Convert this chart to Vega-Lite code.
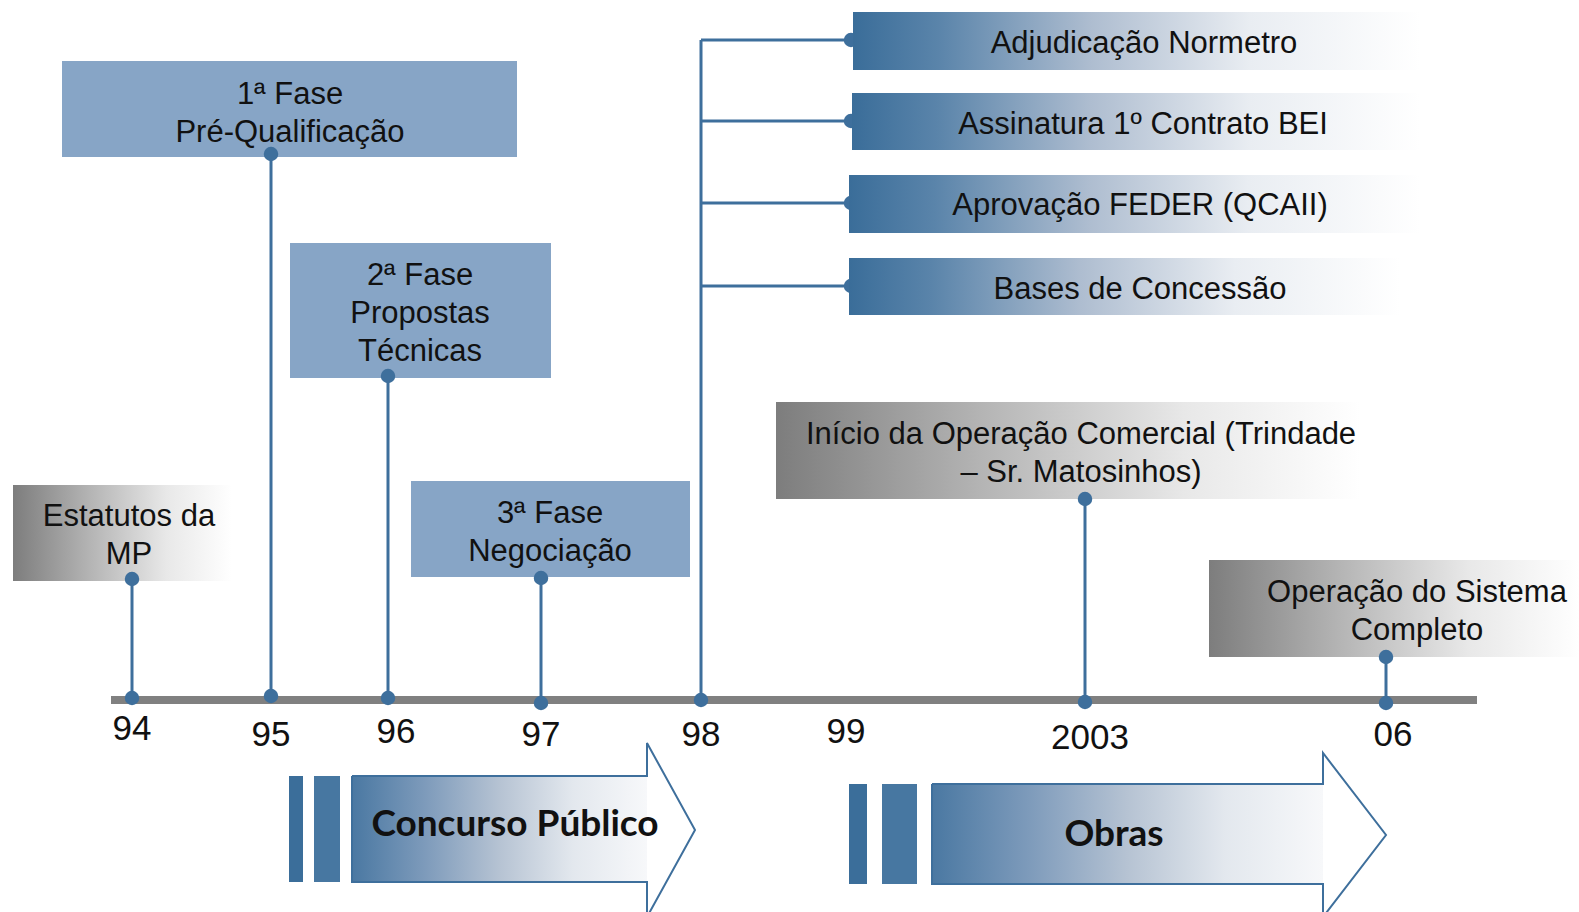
{
  "$schema": "https://vega.github.io/schema/vega-lite/v6.json",
  "width": 1579,
  "height": 912,
  "padding": 0,
  "autosize": {"type": "fit", "contains": "padding"},
  "background": "white",
  "config": {"view": {"stroke": null}},
  "datasets": {
    "boxes": [
      {"label": "Estatutos da MP", "kind": "milestone", "x1": 13, "x2": 232, "y1": 485, "y2": 581},
      {"label": "1ª Fase", "kind": "phase", "x1": 62, "x2": 517, "y1": 61, "y2": 157},
      {"label": "2ª Fase", "kind": "phase", "x1": 290, "x2": 551, "y1": 243, "y2": 378},
      {"label": "3ª Fase", "kind": "phase", "x1": 411, "x2": 690, "y1": 481, "y2": 577},
      {"label": "Adjudicação Normetro", "kind": "contract", "x1": 853, "x2": 1420, "y1": 12, "y2": 70},
      {"label": "Assinatura 1º Contrato BEI", "kind": "contract", "x1": 852, "x2": 1420, "y1": 93, "y2": 150},
      {"label": "Aprovação FEDER (QCAII)", "kind": "contract", "x1": 849, "x2": 1420, "y1": 175, "y2": 233},
      {"label": "Bases de Concessão", "kind": "contract", "x1": 849, "x2": 1400, "y1": 258, "y2": 315},
      {"label": "Início da Operação Comercial", "kind": "milestone", "x1": 776, "x2": 1360, "y1": 402, "y2": 499},
      {"label": "Operação do Sistema Completo", "kind": "milestone", "x1": 1209, "x2": 1579, "y1": 560, "y2": 657}
    ],
    "labels": [
      {"text": ["Estatutos da", "MP"], "x": 129, "y": 517},
      {"text": ["1ª Fase", "Pré-Qualificação"], "x": 290, "y": 95},
      {"text": ["2ª Fase", "Propostas", "Técnicas"], "x": 420, "y": 276},
      {"text": ["3ª Fase", "Negociação"], "x": 550, "y": 514},
      {"text": ["Adjudicação Normetro"], "x": 1144, "y": 44},
      {"text": ["Assinatura 1º Contrato BEI"], "x": 1143, "y": 125},
      {"text": ["Aprovação FEDER (QCAII)"], "x": 1140, "y": 206},
      {"text": ["Bases de Concessão"], "x": 1140, "y": 290},
      {"text": ["Início da Operação Comercial (Trindade", "– Sr. Matosinhos)"], "x": 1081, "y": 435},
      {"text": ["Operação do Sistema", "Completo"], "x": 1417, "y": 593}
    ],
    "stems": [
      {"event": "Estatutos da MP", "x": 132, "x2": 132, "y": 579, "y2": 698},
      {"event": "1ª Fase", "x": 271, "x2": 271, "y": 154, "y2": 696},
      {"event": "2ª Fase", "x": 388, "x2": 388, "y": 376, "y2": 698},
      {"event": "3ª Fase", "x": 541, "x2": 541, "y": 578, "y2": 703},
      {"event": "1998", "x": 701, "x2": 701, "y": 40, "y2": 700},
      {"event": "Adjudicação", "x": 701, "x2": 851, "y": 40, "y2": 40},
      {"event": "Assinatura", "x": 701, "x2": 851, "y": 121, "y2": 121},
      {"event": "Aprovação", "x": 701, "x2": 851, "y": 203, "y2": 203},
      {"event": "Bases", "x": 701, "x2": 851, "y": 286, "y2": 286},
      {"event": "Início", "x": 1085, "x2": 1085, "y": 499, "y2": 702},
      {"event": "Operação", "x": 1386, "x2": 1386, "y": 657, "y2": 703}
    ],
    "dots": [
      {"x": 132, "y": 579, "layer": "front"}, {"x": 132, "y": 698, "layer": "front"},
      {"x": 271, "y": 154, "layer": "front"}, {"x": 271, "y": 696, "layer": "front"},
      {"x": 388, "y": 376, "layer": "front"}, {"x": 388, "y": 698, "layer": "front"},
      {"x": 541, "y": 578, "layer": "front"}, {"x": 541, "y": 703, "layer": "front"},
      {"x": 701, "y": 700, "layer": "front"},
      {"x": 851, "y": 40, "layer": "back"}, {"x": 851, "y": 121, "layer": "back"},
      {"x": 851, "y": 203, "layer": "back"}, {"x": 851, "y": 286, "layer": "back"},
      {"x": 1085, "y": 499, "layer": "front"}, {"x": 1085, "y": 702, "layer": "front"},
      {"x": 1386, "y": 657, "layer": "front"}, {"x": 1386, "y": 703, "layer": "front"}
    ],
    "years": [
      {"year": "94", "x": 132, "y": 729},
      {"year": "95", "x": 271, "y": 735},
      {"year": "96", "x": 396, "y": 732},
      {"year": "97", "x": 541, "y": 735},
      {"year": "98", "x": 701, "y": 735},
      {"year": "99", "x": 846, "y": 732},
      {"year": "2003", "x": 1090, "y": 738},
      {"year": "06", "x": 1393, "y": 735}
    ],
    "bars": [
      {"arrow": "Concurso", "x1": 289, "x2": 303, "y1": 776, "y2": 882, "shade": "a"},
      {"arrow": "Concurso", "x1": 314, "x2": 340, "y1": 776, "y2": 882, "shade": "b"},
      {"arrow": "Obras", "x1": 849, "x2": 867, "y1": 784, "y2": 884, "shade": "a"},
      {"arrow": "Obras", "x1": 882, "x2": 917, "y1": 784, "y2": 884, "shade": "b"}
    ],
    "arrowBody": [
      {"arrow": "Concurso", "x1": 352, "x2": 647, "y1": 776, "y2": 882},
      {"arrow": "Obras", "x1": 932, "x2": 1323, "y1": 784, "y2": 884}
    ],
    "arrowHead": [
      {"arrow": "Concurso", "ord": 1, "x": 646, "yt": 743, "yb": 917},
      {"arrow": "Concurso", "ord": 2, "x": 695, "yt": 830, "yb": 830},
      {"arrow": "Obras", "ord": 1, "x": 1322, "yt": 753, "yb": 917},
      {"arrow": "Obras", "ord": 2, "x": 1386, "yt": 835, "yb": 835}
    ],
    "arrowLine": [
      {"arrow": "Concurso", "ord": 1, "x": 352, "y": 776},
      {"arrow": "Concurso", "ord": 2, "x": 647, "y": 776},
      {"arrow": "Concurso", "ord": 3, "x": 647, "y": 743},
      {"arrow": "Concurso", "ord": 4, "x": 695, "y": 830},
      {"arrow": "Concurso", "ord": 5, "x": 647, "y": 917},
      {"arrow": "Concurso", "ord": 6, "x": 647, "y": 882},
      {"arrow": "Concurso", "ord": 7, "x": 352, "y": 882},
      {"arrow": "Concurso", "ord": 8, "x": 352, "y": 776},
      {"arrow": "Obras", "ord": 1, "x": 932, "y": 784},
      {"arrow": "Obras", "ord": 2, "x": 1323, "y": 784},
      {"arrow": "Obras", "ord": 3, "x": 1323, "y": 753},
      {"arrow": "Obras", "ord": 4, "x": 1386, "y": 835},
      {"arrow": "Obras", "ord": 5, "x": 1323, "y": 917},
      {"arrow": "Obras", "ord": 6, "x": 1323, "y": 884},
      {"arrow": "Obras", "ord": 7, "x": 932, "y": 884},
      {"arrow": "Obras", "ord": 8, "x": 932, "y": 784}
    ],
    "arrowText": [
      {"text": "Concurso Público", "x": 515, "y": 825},
      {"text": "Obras", "x": 1114, "y": 835}
    ],
    "axisBar": [{"x1": 111, "x2": 1477, "y": 700}]
  },
  "layer": [
    {
      "data": {"name": "boxes"},
      "transform": [{"filter": "datum.kind === 'phase'"}],
      "mark": {"type": "rect", "fill": "#87a5c6"},
      "encoding": {
        "x": {"field": "x1", "type": "quantitative", "scale": {"domain": [0, 1579], "nice": false, "zero": false}, "axis": null},
        "x2": {"field": "x2"},
        "y": {"field": "y1", "type": "quantitative", "scale": {"domain": [0, 912], "nice": false, "zero": false, "reverse": true}, "axis": null},
        "y2": {"field": "y2"}
      }
    },
    {
      "data": {"name": "boxes"},
      "transform": [{"filter": "datum.kind === 'milestone'"}],
      "mark": {"type": "rect", "fill": {"gradient": "linear", "x1": 0, "x2": 1, "y1": 0, "y2": 0, "stops": [
        {"offset": 0, "color": "#7d7d7d"},
        {"offset": 0.35, "color": "#b4b4b4"},
        {"offset": 0.7, "color": "#e8e8e8"},
        {"offset": 1, "color": "#ffffff"}
      ]}},
      "encoding": {
        "x": {"field": "x1", "type": "quantitative"},
        "x2": {"field": "x2"},
        "y": {"field": "y1", "type": "quantitative"},
        "y2": {"field": "y2"}
      }
    },
    {
      "data": {"name": "axisBar"},
      "mark": {"type": "rule", "color": "#808080", "strokeWidth": 8},
      "encoding": {
        "x": {"field": "x1", "type": "quantitative"},
        "x2": {"field": "x2"},
        "y": {"field": "y", "type": "quantitative"}
      }
    },
    {
      "data": {"name": "stems"},
      "mark": {"type": "rule", "color": "#3e6f9c", "strokeWidth": 3},
      "encoding": {
        "x": {"field": "x", "type": "quantitative"},
        "x2": {"field": "x2"},
        "y": {"field": "y", "type": "quantitative"},
        "y2": {"field": "y2"}
      }
    },
    {
      "data": {"name": "dots"},
      "transform": [{"filter": "datum.layer === 'back'"}],
      "mark": {"type": "point", "filled": true, "shape": "circle", "size": 210, "color": "#3e6f9c", "opacity": 1},
      "encoding": {
        "x": {"field": "x", "type": "quantitative"},
        "y": {"field": "y", "type": "quantitative"}
      }
    },
    {
      "data": {"name": "boxes"},
      "transform": [{"filter": "datum.kind === 'contract'"}],
      "mark": {"type": "rect", "fill": {"gradient": "linear", "x1": 0, "x2": 1, "y1": 0, "y2": 0, "stops": [
        {"offset": 0, "color": "#3a6d99"},
        {"offset": 0.15, "color": "#5a84aa"},
        {"offset": 0.42, "color": "#aebdd0"},
        {"offset": 0.7, "color": "#e9edf2"},
        {"offset": 1, "color": "#ffffff"}
      ]}},
      "encoding": {
        "x": {"field": "x1", "type": "quantitative"},
        "x2": {"field": "x2"},
        "y": {"field": "y1", "type": "quantitative"},
        "y2": {"field": "y2"}
      }
    },
    {
      "data": {"name": "dots"},
      "transform": [{"filter": "datum.layer === 'front'"}],
      "mark": {"type": "point", "filled": true, "shape": "circle", "size": 210, "color": "#3e6f9c", "opacity": 1},
      "encoding": {
        "x": {"field": "x", "type": "quantitative"},
        "y": {"field": "y", "type": "quantitative"}
      }
    },
    {
      "data": {"name": "labels"},
      "mark": {"type": "text", "font": "Liberation Sans", "fontSize": 31, "lineHeight": 38, "color": "#111111", "align": "center", "baseline": "middle"},
      "encoding": {
        "x": {"field": "x", "type": "quantitative"},
        "y": {"field": "y", "type": "quantitative"},
        "text": {"field": "text"}
      }
    },
    {
      "data": {"name": "years"},
      "mark": {"type": "text", "font": "Liberation Sans", "fontSize": 35, "color": "#111111", "align": "center", "baseline": "middle"},
      "encoding": {
        "x": {"field": "x", "type": "quantitative"},
        "y": {"field": "y", "type": "quantitative"},
        "text": {"field": "year"}
      }
    },
    {
      "data": {"name": "bars"},
      "mark": {"type": "rect", "clip": true},
      "encoding": {
        "x": {"field": "x1", "type": "quantitative"},
        "x2": {"field": "x2"},
        "y": {"field": "y1", "type": "quantitative"},
        "y2": {"field": "y2"},
        "color": {"field": "shade", "type": "nominal", "scale": {"domain": ["a", "b"], "range": ["#3b6e9a", "#4777a1"]}, "legend": null}
      }
    },
    {
      "data": {"name": "arrowBody"},
      "mark": {"type": "rect", "fill": {"gradient": "linear", "x1": 0, "x2": 1, "y1": 0, "y2": 0, "stops": [
        {"offset": 0, "color": "#4a78a2"},
        {"offset": 0.25, "color": "#7e9bbb"},
        {"offset": 0.5, "color": "#b6c3d3"},
        {"offset": 0.75, "color": "#e3e8ee"},
        {"offset": 1, "color": "#f7f8fa"}
      ]}},
      "encoding": {
        "x": {"field": "x1", "type": "quantitative"},
        "x2": {"field": "x2"},
        "y": {"field": "y1", "type": "quantitative"},
        "y2": {"field": "y2"}
      }
    },
    {
      "data": {"name": "arrowHead"},
      "mark": {"type": "area", "orient": "vertical", "clip": true, "color": "#f8f9fb", "opacity": 1},
      "encoding": {
        "x": {"field": "x", "type": "quantitative"},
        "y": {"field": "yt", "type": "quantitative"},
        "y2": {"field": "yb"},
        "order": {"field": "ord", "type": "quantitative"},
        "detail": {"field": "arrow", "type": "nominal"}
      }
    },
    {
      "data": {"name": "arrowLine"},
      "mark": {"type": "line", "clip": true, "color": "#3e6f9c", "strokeWidth": 2},
      "encoding": {
        "x": {"field": "x", "type": "quantitative"},
        "y": {"field": "y", "type": "quantitative"},
        "order": {"field": "ord", "type": "quantitative"},
        "detail": {"field": "arrow", "type": "nominal"}
      }
    },
    {
      "data": {"name": "arrowText"},
      "mark": {"type": "text", "font": "Lato", "fontWeight": "bold", "fontSize": 37, "color": "#111111", "align": "center", "baseline": "middle"},
      "encoding": {
        "x": {"field": "x", "type": "quantitative"},
        "y": {"field": "y", "type": "quantitative"},
        "text": {"field": "text"}
      }
    }
  ]
}
